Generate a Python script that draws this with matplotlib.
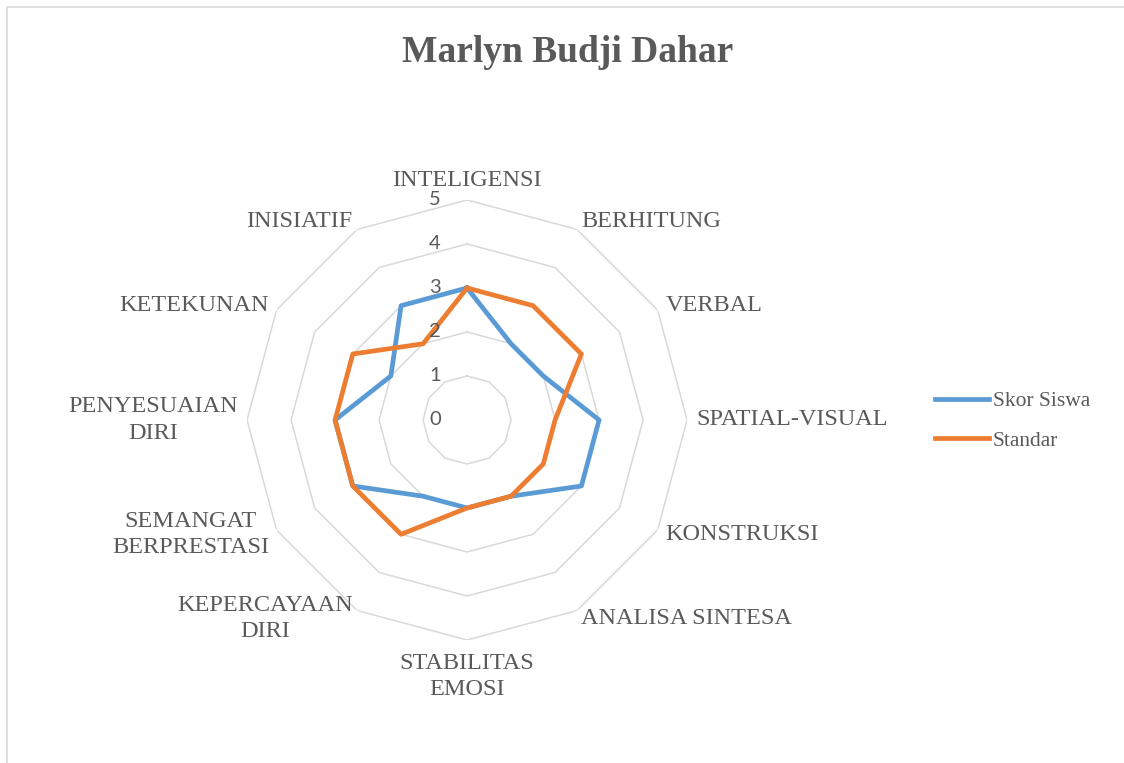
import matplotlib
matplotlib.use("Agg")
import matplotlib.pyplot as plt
import numpy as np

# Data
categories = ["INTELIGENSI", "BERHITUNG", "VERBAL", "SPATIAL-VISUAL", "KONSTRUKSI",
              "ANALISA SINTESA", "STABILITAS\nEMOSI", "KEPERCAYAAN\nDIRI",
              "SEMANGAT\nBERPRESTASI", "PENYESUAIAN\nDIRI", "KETEKUNAN", "INISIATIF"]
skor_siswa = [3, 2, 2, 3, 3, 2, 2, 2, 3, 3, 2, 3]
standar = [3, 3, 3, 2, 2, 2, 2, 3, 3, 3, 3, 2]
ticks = [0, 1, 2, 3, 4, 5]

text_color = "#595959"
grid_color = "#D9D9D9"
serif = "Liberation Serif"

fig = plt.figure(figsize=(11.24, 7.63), dpi=100)
fig.patch.set_facecolor("white")

# chart frame (only top and left edges visible in the crop)
fig.add_artist(plt.Rectangle((7 / 1124, -0.1), 1.2, 1 - 7 / 763 + 0.1,
                             transform=fig.transFigure, fill=False,
                             edgecolor=grid_color, linewidth=1.2))

ax = fig.add_axes([0.2198, 0.1612, 0.3915, 0.5767], projection="polar")
ax.set_theta_zero_location("N")
ax.set_theta_direction(-1)
ax.set_ylim(0, 5)
ax.grid(False)
ax.set_xticks([])
ax.set_yticks([])
ax.spines["polar"].set_visible(False)
ax.patch.set_alpha(0)

n = len(categories)
angles = np.arange(n) * 2 * np.pi / n
closed = np.append(angles, angles[0])

# rings only (no spokes)
for r in ticks[1:]:
    ax.plot(closed, [r] * (n + 1), color=grid_color, lw=1.1, zorder=1)

# series
ax.plot(closed, skor_siswa + skor_siswa[:1], color="#5B9BD5", lw=3.4,
        solid_joinstyle="round", label="Skor Siswa", zorder=3)
ax.plot(closed, standar + standar[:1], color="#ED7D31", lw=3.4,
        solid_joinstyle="round", label="Standar", zorder=4)

# radial tick labels
for t in ticks:
    ax.annotate(str(t), (0, t), xytext=(-32, 0), textcoords="offset pixels",
                ha="center", va="center", fontsize=14.5, color=text_color,
                family="Lato", zorder=5)

# category labels
for a, lab in zip(angles, categories):
    deg = np.degrees(a) % 360
    if deg < 1:
        ha, va, r = "center", "bottom", 5.2
    elif abs(deg - 180) < 1:
        ha, va, r = "center", "top", 5.3
    elif deg < 180:
        ha, va, r = "left", "center", 5.2
    else:
        ha, va, r = "right", "center", 5.2
    ax.text(a, r, lab, ha=ha, va=va, multialignment="center",
            fontsize=17.5, color=text_color, family=serif, linespacing=1.32)

fig.text(0.505, 1 - 53 / 763, "Marlyn Budji Dahar", ha="center", va="center",
         fontsize=27, fontweight="bold", color=text_color, family=serif)

leg = fig.legend(loc="center left", bbox_to_anchor=(935 / 1124, 1 - 421 / 763),
                 frameon=False, borderpad=0, borderaxespad=0,
                 handlelength=2.5, handletextpad=0.2, labelspacing=0.9,
                 prop={"family": serif, "size": 15.5})
for txt in leg.get_texts():
    txt.set_color(text_color)

fig.savefig("out.png", dpi=100)
